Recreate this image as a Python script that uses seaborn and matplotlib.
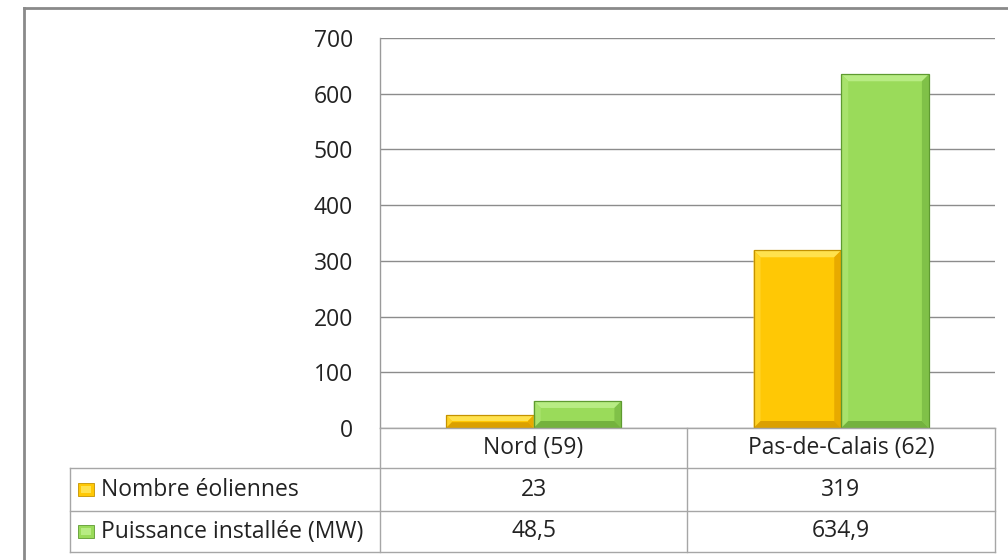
import matplotlib
matplotlib.use("Agg")
import matplotlib.pyplot as plt
from matplotlib.patches import Polygon, Rectangle
from matplotlib.lines import Line2D
import seaborn as sns
import pandas as pd

# Data
departements = ["Nord (59)", "Pas-de-Calais (62)"]
series_names = ["Nombre éoliennes", "Puissance installée (MW)"]
nombre_eoliennes = [23, 319]
puissance_mw = [48.5, 634.9]
value_labels = [["23", "319"], ["48,5", "634,9"]]
y_ticks = [0, 100, 200, 300, 400, 500, 600, 700]

body = {"Nombre éoliennes": "#FFC805", "Puissance installée (MW)": "#9ADB5A"}
bevel = {
    "Nombre éoliennes": dict(top="#FFE24E", left="#FFD326", right="#E8AA00",
                             bottom="#DBA000", edge="#C49200"),
    "Puissance installée (MW)": dict(top="#B8EC84", left="#A8E26C", right="#80C148",
                                     bottom="#74B23E", edge="#5E9A30"),
}

df = pd.DataFrame({
    "dep": departements * 2,
    "serie": [series_names[0]] * 2 + [series_names[1]] * 2,
    "val": nombre_eoliennes + puissance_mw,
})

W, H, DPI = 1008, 560, 100
FS = 16.5
TXT = "#222222"
fig = plt.figure(figsize=(W / DPI, H / DPI), dpi=DPI)
plt.rcParams["font.family"] = ["Open Sans", "DejaVu Sans"]

ax_l, ax_r, ax_t, ax_b = 380, 995, 38, 428
ax = fig.add_axes([ax_l / W, 1 - ax_b / H, (ax_r - ax_l) / W, (ax_b - ax_t) / H])

sns.barplot(data=df, x="dep", y="val", hue="serie", order=departements,
            hue_order=series_names, palette=body, width=0.57, gap=0,
            saturation=1, ax=ax, legend=False, linewidth=0)

ax.set_ylim(0, 700)
ax.set_xlim(-0.5, 1.5)
ax.set_yticks(y_ticks)
ax.set_yticklabels([str(t) for t in y_ticks], fontsize=FS, color=TXT)
ax.tick_params(axis="y", length=0, pad=19.5)
ax.tick_params(axis="x", length=0, labelbottom=False)
ax.set_xlabel("")
ax.set_ylabel("")
ax.set_axisbelow(True)
ax.grid(axis="y", color="#8C8C8C", linewidth=1.0)
ax.grid(axis="x", visible=False)
for s in ["top", "right", "bottom"]:
    ax.spines[s].set_visible(False)
ax.spines["left"].set_color("#9A9A9A")
ax.spines["left"].set_linewidth(1.0)
ax.set_facecolor("white")

# Bevelled bars: shade the edges of each bar drawn by seaborn
px_x = 2.0 / (ax_r - ax_l)            # data units per pixel (x)
px_y = 700.0 / (ax_b - ax_t)          # data units per pixel (y)
bars = list(ax.patches)
for i, p in enumerate(bars):
    name = series_names[i // len(departements)]
    c = bevel[name]
    x0, y0 = p.get_x(), p.get_y()
    w, h = p.get_width(), p.get_height()
    x1, y1 = x0 + w, y0 + h
    b_px = min(7, (h / px_y) / 2.2)
    bx, by = b_px * px_x, b_px * px_y
    polys = [
        ([(x0, y1), (x1, y1), (x1 - bx, y1 - by), (x0 + bx, y1 - by)], c["top"]),
        ([(x0, y0), (x0 + bx, y0 + by), (x0 + bx, y1 - by), (x0, y1)], c["left"]),
        ([(x1, y0), (x1, y1), (x1 - bx, y1 - by), (x1 - bx, y0 + by)], c["right"]),
        ([(x0, y0), (x1, y0), (x1 - bx, y0 + by), (x0 + bx, y0 + by)], c["bottom"]),
    ]
    for pts, col in polys:
        ax.add_patch(Polygon(pts, closed=True, facecolor=col, edgecolor="none", zorder=3))
    ax.add_patch(Rectangle((x0, y0), w, h, facecolor="none", edgecolor=c["edge"],
                           linewidth=0.9, zorder=4))

# Data table below the plot (figure pixel layout)
def fx(x):
    return x / W

def fy(y):
    return 1 - y / H

line_kw = dict(color="#A6A6A6", linewidth=1.0, transform=fig.transFigure)
rows = [428, 468, 511, 552]
col_mid = 687
tbl_l = 70
# horizontal lines
fig.add_artist(Line2D([fx(ax_l), fx(ax_r)], [fy(rows[0])] * 2, **line_kw))
for r in rows[1:]:
    fig.add_artist(Line2D([fx(tbl_l), fx(ax_r)], [fy(r)] * 2, **line_kw))
# vertical lines
fig.add_artist(Line2D([fx(ax_l)] * 2, [fy(rows[0]), fy(rows[3])], **line_kw))
fig.add_artist(Line2D([fx(col_mid)] * 2, [fy(rows[0]), fy(rows[3])], **line_kw))
fig.add_artist(Line2D([fx(ax_r)] * 2, [fy(rows[0]), fy(rows[3])], **line_kw))
fig.add_artist(Line2D([fx(tbl_l)] * 2, [fy(rows[1]), fy(rows[3])], **line_kw))

centers = [(ax_l + col_mid) / 2, (col_mid + ax_r) / 2]
txt_kw = dict(fontsize=FS, color=TXT, ha="center", va="center")
for cx, lab in zip(centers, departements):
    fig.text(fx(cx), fy((rows[0] + rows[1]) / 2), lab, **txt_kw)
for ri, name in enumerate(series_names):
    yc = (rows[ri + 1] + rows[ri + 2]) / 2
    for cx, v in zip(centers, value_labels[ri]):
        fig.text(fx(cx), fy(yc), v, **txt_kw)
    c = bevel[name]
    fig.add_artist(Rectangle((fx(78), fy(yc + 6.5)), 16 / W, 13 / H,
                             facecolor=body[name], edgecolor=c["edge"], linewidth=0.6,
                             transform=fig.transFigure))
    fig.add_artist(Rectangle((fx(81), fy(yc + 3.5)), 10 / W, 7 / H,
                             facecolor=c["top"], edgecolor="none",
                             transform=fig.transFigure))
    fig.text(fx(101), fy(yc), name, fontsize=FS, color=TXT,
             ha="left", va="center")

# Chart frame (top and left edges visible)
frame_kw = dict(color="#8A8A8A", linewidth=2.0, transform=fig.transFigure)
fig.add_artist(Line2D([fx(24), fx(1008)], [fy(7.5)] * 2, **frame_kw))
fig.add_artist(Line2D([fx(24)] * 2, [fy(7.5), fy(560)], **frame_kw))

fig.savefig("out.png", dpi=DPI, facecolor="white")
